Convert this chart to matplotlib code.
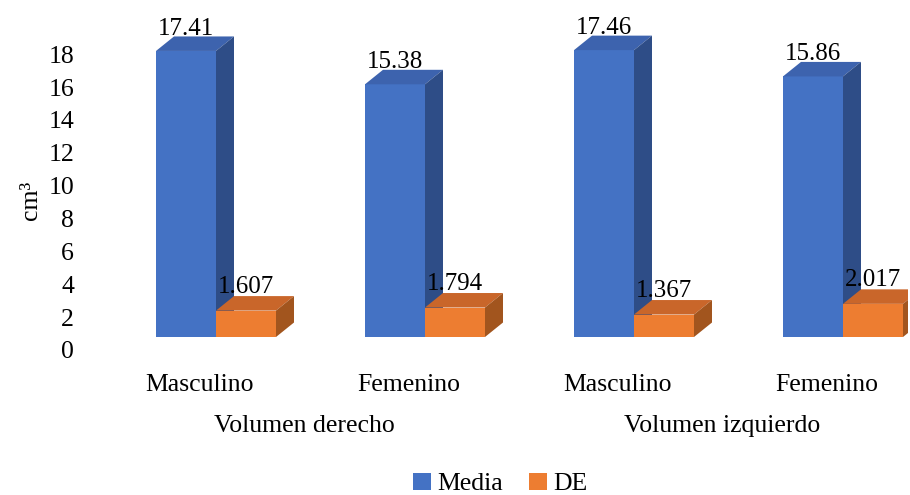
import matplotlib
matplotlib.use("Agg")
import matplotlib.pyplot as plt
from matplotlib.patches import Polygon, Patch
from matplotlib.transforms import ScaledTranslation

plt.rcParams['font.family'] = ['Liberation Serif', 'DejaVu Serif']

categories = ["Masculino", "Femenino", "Masculino", "Femenino"]
groups = ["Volumen derecho", "Volumen izquierdo"]
media = [17.41, 15.38, 17.46, 15.86]
de = [1.607, 1.794, 1.367, 2.017]
media_labels = ["17.41", "15.38", "17.46", "15.86"]
de_labels = ["1.607", "1.794", "1.367", "2.017"]
yticks = [0, 2, 4, 6, 8, 10, 12, 14, 16, 18]
series = ["Media", "DE"]

colors = {
    "Media": ("#4472C4", "#3D63AE", "#2E4D87"),
    "DE": ("#ED7D31", "#C9662A", "#A2551E"),
}

FS = 18.5
DPI = 100
fig = plt.figure(figsize=(9.10, 4.95), dpi=DPI)
ax = fig.add_axes([90 / 910, 1 - 352 / 495, (908 - 90) / 910, (352 - 18) / 495])

px_x = 209.0          # pixels per category
px_y = 16.43          # pixels per unit
width = 60 / px_x
ddx = 18 / px_x
ddy = 14.5 / px_y

x0 = (216 - 90) / px_x
ax.set_xlim(-x0, (908 - 216) / px_x)
ax.set_ylim(-(352 - 337) / px_y, (337 - 18) / px_y)


def draw_bar(xl, h, name):
    front, top, side = colors[name]
    xr = xl + width
    ax.add_patch(Polygon([(xl, 0), (xr, 0), (xr, h), (xl, h)], closed=True,
                         facecolor=front, edgecolor='none', zorder=3))
    ax.add_patch(Polygon([(xl, h), (xr, h), (xr + ddx, h + ddy), (xl + ddx, h + ddy)],
                         closed=True, facecolor=top, edgecolor='none', zorder=3))
    ax.add_patch(Polygon([(xr, 0), (xr + ddx, ddy), (xr + ddx, h + ddy), (xr, h)],
                         closed=True, facecolor=side, edgecolor='none', zorder=3))


for i in range(len(categories)):
    draw_bar(i - width, media[i], "Media")
    draw_bar(i, de[i], "DE")
    ax.text(i - width / 2, media[i] + ddy + 1.5 / px_y, media_labels[i],
            ha='center', va='baseline', fontsize=18, color='black', zorder=5)
    ax.text(i + width / 2, de[i] + ddy + 3 / px_y, de_labels[i],
            ha='center', va='baseline', fontsize=18, color='black', zorder=5)

for s in ax.spines.values():
    s.set_visible(False)

ax.set_yticks(yticks)
ax.set_yticklabels([str(t) for t in yticks], fontsize=FS)
ax.tick_params(axis='y', length=0, pad=11.5)
shift = ScaledTranslation(0, -13 / DPI, fig.dpi_scale_trans)
for lab in ax.get_yticklabels():
    lab.set_transform(lab.get_transform() + shift)

ax.set_xticks([i - 16 / px_x for i in range(len(categories))])
ax.set_xticklabels(categories, fontsize=FS)
ax.tick_params(axis='x', length=0, pad=15.5)

trans = ax.get_xaxis_transform()
for g, name in enumerate(groups):
    xc = (2 * g + 2 * g + 1) / 2 - 16 / px_x
    ax.text(xc, -(432 - 352) / (352 - 18), name, transform=trans,
            ha='center', va='baseline', fontsize=FS)

fig.text(31 / 910, 1 - 200 / 495, "cm³", rotation=90, ha='center', va='center',
         fontsize=FS)

handles = [Patch(facecolor=colors[s][0], label=s) for s in series]
fig.legend(handles=handles, loc='center', bbox_to_anchor=(500 / 910, 1 - 484 / 495),
           ncol=2, frameon=False, fontsize=FS, handlelength=0.7, handleheight=0.7,
           handletextpad=0.25, columnspacing=1.0, borderpad=0.1)

fig.savefig("out.png", dpi=DPI)
